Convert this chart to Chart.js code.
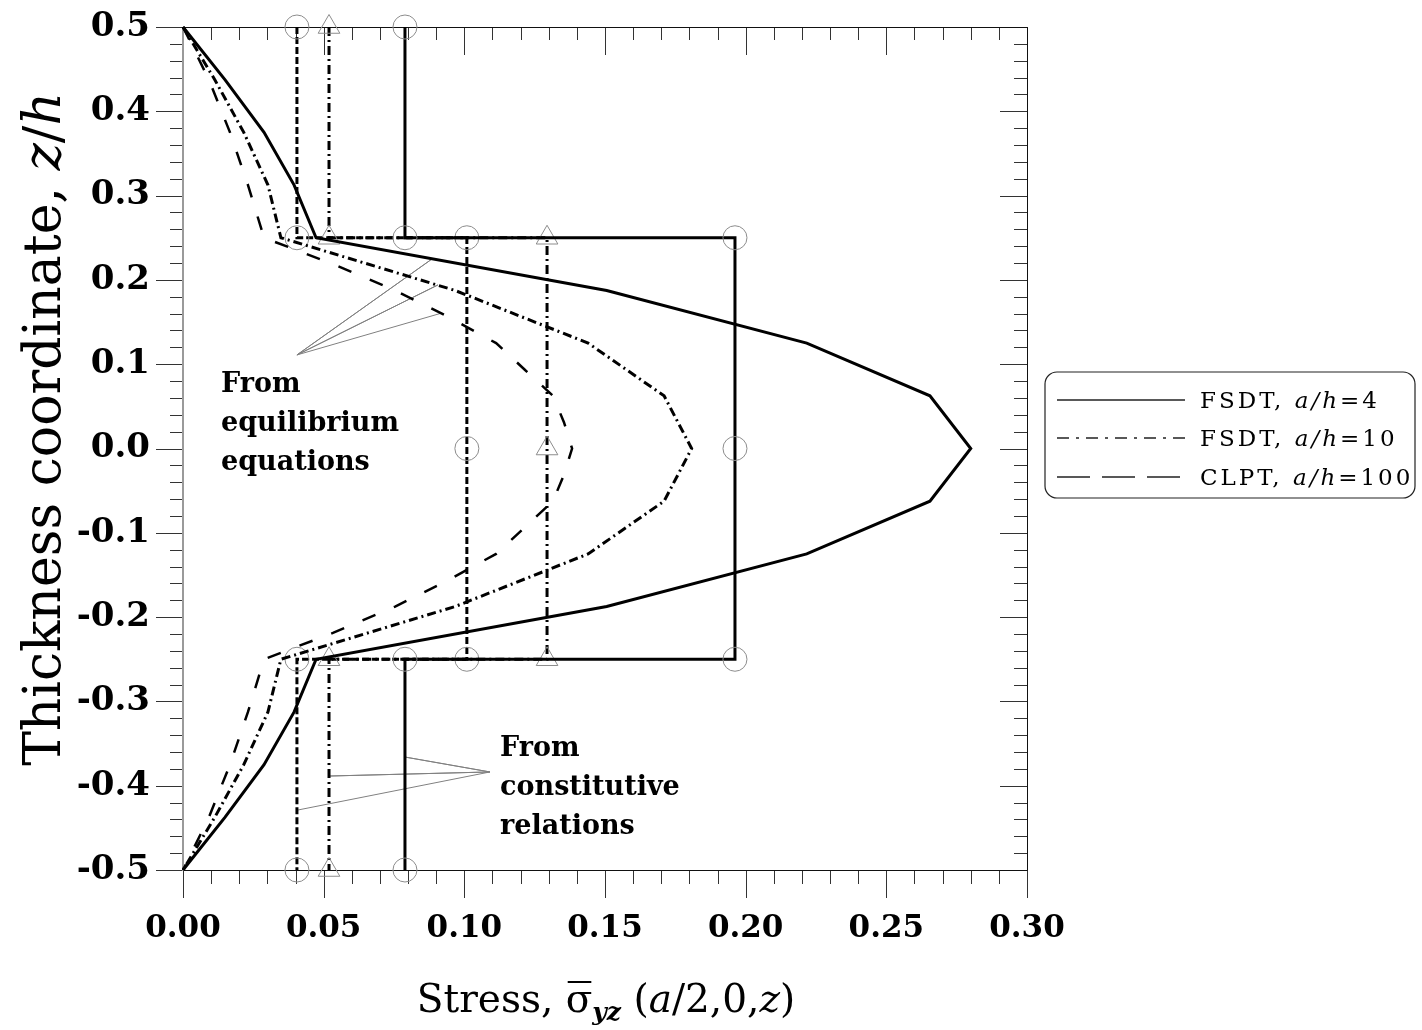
<!DOCTYPE html>
<html><head><meta charset="utf-8">
<script src="https://cdn.jsdelivr.net/npm/chart.js@4.4.1/dist/chart.umd.min.js"></script>
<style>html,body{margin:0;padding:0;background:#fff;}#wrap{width:1422px;height:1030px;position:relative;}</style>
</head><body><div id="wrap"><canvas id="c" width="1422" height="1030"></canvas></div>
<script>
// ---------- DATA ----------
const zEq = [0.5,0.4375,0.375,0.3125,0.25,0.1875,0.125,0.0625,0,-0.0625,-0.125,-0.1875,-0.25,-0.3125,-0.375,-0.4375,-0.5];
const eqFsdt4 = [0,0.0149,0.0288,0.0395,0.0473,0.1506,0.2217,0.2655,0.2800,0.2655,0.2217,0.1506,0.0473,0.0395,0.0288,0.0149,0];
const eqFsdt10 = [0,0.0113,0.0216,0.0302,0.0348,0.0967,0.1440,0.1710,0.1808,0.1710,0.1440,0.0967,0.0348,0.0302,0.0216,0.0113,0];
const zClpt = [0.5,0.4375,0.375,0.3125,0.25,0.21875,0.1875,0.15625,0.125,0.09375,0.0625,0.03125,0,-0.03125,-0.0625,-0.09375,-0.125,-0.15625,-0.1875,-0.21875,-0.25,-0.3125,-0.375,-0.4375,-0.5];
const eqClpt100 = [0,0.0092,0.0167,0.0231,0.0288,0.0533,0.0754,0.0942,0.1113,0.1214,0.1315,0.1354,0.1383,0.1354,0.1315,0.1214,0.1113,0.0942,0.0754,0.0533,0.0288,0.0231,0.0167,0.0092,0];

const zCon = [0.5,0.25,0.25,0,-0.25,-0.25,-0.5];
const conFsdt4 = [0.0789,0.0789,0.1962,0.1962,0.1962,0.0789,0.0789];
const conFsdt10 = [0.0519,0.0519,0.1294,0.1294,0.1294,0.0519,0.0519];
const conClpt100 = [0.0405,0.0405,0.1009,0.1009,0.1009,0.0405,0.0405];

// annotation leader lines (data coordinates)
const leaderEqX = [0.0405,0.0885,0.0405,0.0906,0.0405,0.0921];
const leaderEqZ = [0.1110,0.2248,0.1110,0.1940,0.1110,0.1608];
const leaderConX = [0.1091,0.0789,0.1091,0.0523,0.1091,0.0409];
const leaderConZ = [-0.3837,-0.3660,-0.3837,-0.3885,-0.3837,-0.4288];

const seriesNames = ['FSDT, a/h=4','FSDT, a/h=10','CLPT, a/h=100'];

const xTickValues = [0,0.05,0.10,0.15,0.20,0.25,0.30];
const xTickLabels = ['0.00','0.05','0.10','0.15','0.20','0.25','0.30'];
const yTickValues = [-0.5,-0.4,-0.3,-0.2,-0.1,0,0.1,0.2,0.3,0.4,0.5];
const yTickLabels = ['-0.5','-0.4','-0.3','-0.2','-0.1','0.0','0.1','0.2','0.3','0.4','0.5'];
const xMinorStep = 0.01;
const yMinorStep = 0.02;

// ---------- STYLES ----------
const SERIF = 'DejaVu Serif';
const DASHDOT = [9,4,2,4];
const SHORTDASH = [7,3];
const LONGDASH = [14,20];

function pts(xs, zs){ return xs.map((x,i)=>({x:x, y:zs[i]})); }

const lineBase = {showLine:true, fill:false, pointRadius:0, borderColor:'#000', tension:0, clip:false};
const markerBase = {pointBorderColor:'#8c8c8c', pointBackgroundColor:'rgba(0,0,0,0)', pointBorderWidth:1, pointRadius:12, pointHoverRadius:12, clip:false};

function drawRuns(ctx, runs, x, y, align){
  let w = 0;
  runs.forEach(r=>{ ctx.font = r.f; r.w = ctx.measureText(r.t).width; w += r.w; });
  let cx = align==='center' ? x - w/2 : x;
  runs.forEach(r=>{
    ctx.font = r.f;
    ctx.fillText(r.t, cx, y + (r.dy||0));
    if (r.bar){ ctx.save(); ctx.lineWidth=2; ctx.beginPath(); ctx.moveTo(cx+2, y-r.bar); ctx.lineTo(cx+r.w-1, y-r.bar); ctx.stroke(); ctx.restore(); }
    cx += r.w;
  });
}

const framePlugin = {
  id:'frame',
  beforeDatasetsDraw(chart){
    const {ctx, chartArea:a, scales:{x, y}} = chart;
    ctx.save();
    ctx.lineWidth = 1;
    ctx.strokeStyle = '#333';
    const nx = Math.round(0.3/xMinorStep);
    for (let i=0;i<=nx;i++){
      const v = i*xMinorStep, px = Math.round(x.getPixelForValue(v))+0.5;
      const major = i%5===0, L = major?28:14;
      ctx.beginPath(); ctx.moveTo(px, a.bottom); ctx.lineTo(px, a.bottom+L); ctx.stroke();
      ctx.beginPath(); ctx.moveTo(px, a.top); ctx.lineTo(px, a.top+(major?28:13)); ctx.stroke();
    }
    const ny = Math.round(1/yMinorStep);
    for (let i=0;i<=ny;i++){
      const v = -0.5 + i*yMinorStep, py = Math.round(y.getPixelForValue(v))+0.5;
      const major = i%5===0, L = major?27:13;
      ctx.beginPath(); ctx.moveTo(a.left, py); ctx.lineTo(a.left-L, py); ctx.stroke();
      ctx.beginPath(); ctx.moveTo(a.right, py); ctx.lineTo(a.right-L, py); ctx.stroke();
    }
    ctx.strokeStyle = '#111';
    ctx.beginPath();
    ctx.moveTo(a.left, a.top+0.5); ctx.lineTo(a.right+0.5, a.top+0.5);
    ctx.lineTo(a.right+0.5, a.bottom+0.5); ctx.lineTo(a.left, a.bottom+0.5);
    ctx.stroke();
    ctx.strokeStyle = '#9a9a9a'; ctx.lineWidth = 2;
    ctx.beginPath(); ctx.moveTo(a.left, a.top); ctx.lineTo(a.left, a.bottom+1); ctx.stroke();
    ctx.restore();
  },
  afterDraw(chart){
    const {ctx, chartArea:a, scales:{x, y}} = chart;
    ctx.save();
    ctx.fillStyle = '#000'; ctx.strokeStyle = '#000';
    ctx.textBaseline = 'alphabetic';
    const fb = 'bold 27px "'+SERIF+'"';
    const ax1 = x.getPixelForValue(0.0135);
    ctx.font = fb;
    ['From','equilibrium','equations'].forEach((t,i)=>ctx.fillText(t, ax1, 392 + i*39));
    const ax2 = x.getPixelForValue(0.1127);
    ['From','constitutive','relations'].forEach((t,i)=>ctx.fillText(t, ax2, 756 + i*39));

    const F = '"'+SERIF+'"';
    drawRuns(ctx, [
      {t:'Stress, ', f:'39px '+F},
      {t:'σ', f:'39px '+F, bar:30},
      {t:'yz', f:'bold italic 25px '+F, dy:8},
      {t:' (', f:'39px '+F},
      {t:'a', f:'italic 39px '+F},
      {t:'/2,0,', f:'39px '+F},
      {t:'z', f:'italic 39px '+F},
      {t:')', f:'39px '+F}
    ], 606, 1012, 'center');

    ctx.save();
    ctx.translate(60, 429);
    ctx.rotate(-Math.PI/2);
    drawRuns(ctx, [
      {t:'Thickness coordinate, ', f:'52px '+F},
      {t:'z', f:'italic 52px '+F},
      {t:'/', f:'52px '+F},
      {t:'h', f:'italic 52px '+F}
    ], 0, 0, 'center');
    ctx.restore();

    const lx=1045, ly=372, lw=370, lh=126, r=12;
    ctx.strokeStyle='#222'; ctx.lineWidth=1.2;
    ctx.beginPath();
    ctx.moveTo(lx+r, ly); ctx.lineTo(lx+lw-r, ly); ctx.arcTo(lx+lw, ly, lx+lw, ly+r, r);
    ctx.lineTo(lx+lw, ly+lh-r); ctx.arcTo(lx+lw, ly+lh, lx+lw-r, ly+lh, r);
    ctx.lineTo(lx+r, ly+lh); ctx.arcTo(lx, ly+lh, lx, ly+lh-r, r);
    ctx.lineTo(lx, ly+r); ctx.arcTo(lx, ly, lx+r, ly, r);
    ctx.stroke();
    const rows = [400, 438, 477];
    const dashes = [[], [12,7,3,7], [33,12]];
    const tails = ['=4','=10','=100'];
    rows.forEach((ry,i)=>{
      ctx.save(); ctx.lineWidth=1.6; ctx.setLineDash(dashes[i]);
      ctx.beginPath(); ctx.moveTo(1057, ry); ctx.lineTo(1185, ry); ctx.stroke(); ctx.restore();
      const head = seriesNames[i].split(',')[0] + ', ';
      ctx.save();
      try { ctx.letterSpacing = '3px'; } catch(e){}
      drawRuns(ctx, [
        {t:head, f:'23px '+F},
        {t:'a/h', f:'italic 23px '+F},
        {t:tails[i], f:'23px '+F}
      ], 1200, ry+8, 'left');
      ctx.restore();
    });
    ctx.restore();
  }
};

const hiddenGrid = (len)=>({display:true, drawOnChartArea:false, drawTicks:true, tickLength:len, color:'rgba(0,0,0,0)', lineWidth:0});

const ctx = document.getElementById('c').getContext('2d');
new Chart(ctx, {
  type:'scatter',
  data:{datasets:[
    Object.assign({label:seriesNames[0], data:pts(eqFsdt4, zEq), borderWidth:3}, lineBase),
    Object.assign({label:seriesNames[1], data:pts(eqFsdt10, zEq), borderWidth:3, borderDash:DASHDOT}, lineBase),
    Object.assign({label:seriesNames[2], data:pts(eqClpt100, zClpt), borderWidth:2.5, borderDash:LONGDASH}, lineBase),
    Object.assign({label:'con4', data:pts(conFsdt4, zCon), borderWidth:3, showLine:true, borderColor:'#000', pointStyle:'circle'}, markerBase),
    Object.assign({label:'con10', data:pts(conFsdt10, zCon), borderWidth:3, showLine:true, borderColor:'#000', borderDash:DASHDOT, pointStyle:'triangle'}, markerBase, {pointRadius:12.5}),
    Object.assign({label:'con100', data:pts(conClpt100, zCon), borderWidth:3, showLine:true, borderColor:'#000', borderDash:SHORTDASH, pointStyle:'circle'}, markerBase),
    Object.assign({label:'lead1', data:pts(leaderEqX, leaderEqZ), borderWidth:1}, lineBase, {borderColor:'#808080'}),
    Object.assign({label:'lead2', data:pts(leaderConX, leaderConZ), borderWidth:1}, lineBase, {borderColor:'#808080'})
  ]},
  options:{
    responsive:false, animation:false, devicePixelRatio:1,
    layout:{autoPadding:false, padding:{top:27, right:395, left:0, bottom:0}},
    plugins:{legend:{display:false}, tooltip:{enabled:false}},
    elements:{line:{borderCapStyle:'butt', borderJoinStyle:'miter'}},
    scales:{
      x:{type:'linear', min:0, max:0.3,
        afterFit(s){ s.height = 160; },
        afterBuildTicks(s){ s.ticks = xTickValues.map(v=>({value:v})); },
        grid:hiddenGrid(40), border:{display:false},
        ticks:{callback:(v,i)=>xTickLabels[i], font:{family:SERIF, weight:'bold', size:31}, color:'#000', padding:0, maxRotation:0, autoSkip:false}
      },
      y:{type:'linear', min:-0.5, max:0.5,
        afterFit(s){ s.width = 183; },
        afterBuildTicks(s){ s.ticks = yTickValues.map(v=>({value:v})); },
        grid:hiddenGrid(33), border:{display:false},
        ticks:{callback:(v,i)=>yTickLabels[i], font:{family:SERIF, weight:'bold', size:34}, color:'#000', padding:0, autoSkip:false}
      }
    }
  },
  plugins:[framePlugin]
});
</script></body></html>
